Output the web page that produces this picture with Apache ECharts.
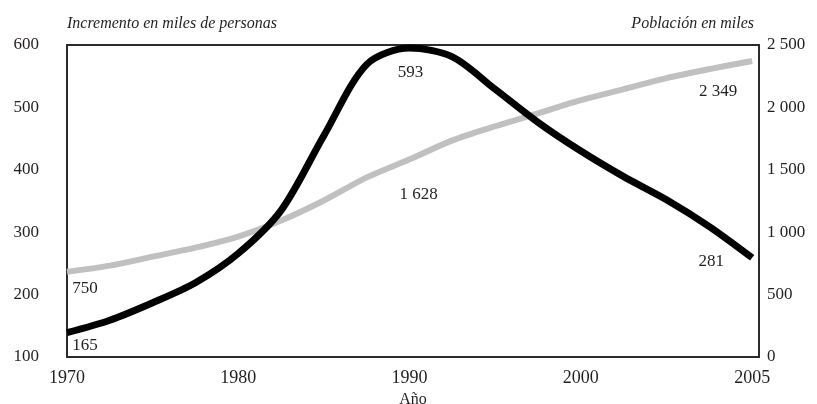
<!DOCTYPE html>
<html>
<head>
<meta charset="utf-8">
<script src="https://cdn.jsdelivr.net/npm/echarts@6/dist/echarts.min.js"></script>
<style>
  html, body { margin: 0; padding: 0; background: #fff; }
  #main { width: 817px; height: 404px; }
</style>
</head>
<body>
<div id="main"></div>
<script>
// x axis: the five labelled years sit at equal steps (2000 -> 2005 spans one step)
const tickYears = [1970, 1980, 1990, 2000, 2005]

const years = [1970, 1972.5, 1975, 1977.5, 1980, 1982.5, 1985, 1987.5, 1990, 1992.5, 1995, 1997.5,
  2000, 2001.25, 2002.5, 2003.75, 2005]
// increment, thousands of persons (left axis)
const increment = [139, 159, 187, 219, 266, 335, 455, 569, 595, 581, 529, 476, 430, 389, 352, 309, 259]
// population, thousands (right axis)
const population = [683, 732, 804, 876, 965, 1093, 1254, 1439, 1584, 1736, 1849, 1953, 2058, 2146, 2235, 2307, 2372]

// printed annotations
const labelYears = [1970, 1990, 2005]
const incrementLabels = [165, 593, 281]
const populationLabels = [750, 1628, 2349]

const FONT = "'Liberation Serif', 'DejaVu Serif', serif"
const TEXT = '#231f20'

const yearToPos = y => y <= 2000 ? (y - 1970) / 10 : 3 + (y - 2000) / 5
const fmt = v => String(v).replace(/\B(?=(\d{3})+(?!\d))/g, ' ')

const incOffsets = [[18, 13], [1, 24], [-41, 4]]
const popOffsets = [[18, 17], [9, 35], [-34, 31]]

const buildData = (vals, labels, offsets) => years.map((y, i) => {
  const k = labelYears.indexOf(y)
  const item = { value: [yearToPos(y), vals[i]] }
  if (k >= 0) {
    item.label = {
      show: true,
      position: 'inside',
      offset: offsets[k],
      formatter: fmt(labels[k]),
      color: TEXT,
      fontFamily: FONT,
      fontSize: 17
    }
  }
  return item
})

const chart = echarts.init(document.getElementById('main'))
chart.setOption({
  animation: false,
  backgroundColor: '#fff',
  grid: {
    left: 67, top: 45, width: 692, height: 312,
    outerBoundsMode: 'none',
    show: true, borderColor: '#2b2b2b', borderWidth: 2, backgroundColor: 'transparent'
  },
  title: [
    {
      text: 'Incremento en miles de personas', left: 62, top: 11,
      textStyle: { fontFamily: FONT, fontStyle: 'italic', fontWeight: 'normal', fontSize: 16, color: TEXT }
    },
    {
      text: 'Población en miles', right: 58, top: 11,
      textStyle: { fontFamily: FONT, fontStyle: 'italic', fontWeight: 'normal', fontSize: 16, color: TEXT }
    }
  ],
  xAxis: {
    type: 'value',
    min: 0,
    max: 4.04,
    interval: 1,
    name: 'Año',
    nameLocation: 'middle',
    nameGap: 32,
    nameTextStyle: { fontFamily: FONT, fontSize: 16, color: TEXT },
    axisLine: { show: false },
    axisTick: { show: false },
    splitLine: { show: false },
    axisLabel: {
      margin: 12,
      fontFamily: FONT,
      fontSize: 18,
      color: TEXT,
      formatter: v => Number.isInteger(v) && tickYears[v] !== undefined ? String(tickYears[v]) : ''
    }
  },
  yAxis: [
    {
      type: 'value',
      min: 100,
      max: 600,
      interval: 100,
      axisLine: { show: false },
      axisTick: { show: false },
      splitLine: { show: false },
      axisLabel: { margin: 28, fontFamily: FONT, fontSize: 17, color: TEXT }
    },
    {
      type: 'value',
      min: 0,
      max: 2500,
      interval: 500,
      position: 'right',
      axisLine: { show: false },
      axisTick: { show: false },
      splitLine: { show: false },
      axisLabel: { margin: 8, fontFamily: FONT, fontSize: 17, color: TEXT, formatter: fmt }
    }
  ],
  series: [
    {
      name: 'Población',
      type: 'line',
      yAxisIndex: 1,
      smooth: 0.3,
      clip: false,
      symbol: 'circle',
      symbolSize: 0,
      showSymbol: true,
      lineStyle: { color: '#c0c0c0', width: 6 },
      itemStyle: { color: '#c0c0c0' },
      emphasis: { disabled: true },
      data: buildData(population, populationLabels, popOffsets)
    },
    {
      name: 'Incremento',
      type: 'line',
      yAxisIndex: 0,
      smooth: 0.3,
      clip: false,
      symbol: 'circle',
      symbolSize: 0,
      showSymbol: true,
      lineStyle: { color: '#000', width: 7 },
      itemStyle: { color: '#000' },
      emphasis: { disabled: true },
      data: buildData(increment, incrementLabels, incOffsets)
    }
  ]
})
</script>
</body>
</html>
